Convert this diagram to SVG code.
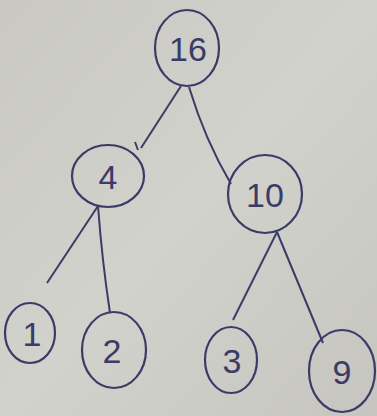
<svg xmlns="http://www.w3.org/2000/svg" width="377" height="416" viewBox="0 0 377 416">
<defs>
<linearGradient id="bg" x1="0" y1="0" x2="1" y2="1">
<stop offset="0" stop-color="#c9c8c2"/>
<stop offset="0.5" stop-color="#d2d2cc"/>
<stop offset="1" stop-color="#c6c5bf"/>
</linearGradient>
<style>
.n{fill:none;stroke:#3b3b68;stroke-width:2.2}
.e{fill:none;stroke:#3b3b68;stroke-width:2}
.t{font-family:"Liberation Sans",sans-serif;fill:#3b3b68;text-anchor:middle;font-size:34px}
</style>
</defs>
<rect width="377" height="416" fill="url(#bg)"/>
<g id="connectors">
<path class="e" d="M181,86 L141,148"/>
<path class="e" d="M135,142 L138,150"/>
<path class="e" d="M189,87 Q205,140 231,184"/>
<path class="e" d="M98,206 L47,283"/>
<path class="e" d="M98,206 Q102,260 110,313"/>
<path class="e" d="M277,232 L233,320"/>
<path class="e" d="M277,232 L323,343"/>
</g>
<g id="node16"><ellipse class="n" cx="187" cy="48" rx="32" ry="38"/><text class="t" x="188" y="61">16</text></g>
<g id="node4"><ellipse class="n" cx="108" cy="176" rx="36" ry="31"/><text class="t" x="108" y="189">4</text></g>
<g id="node10"><ellipse class="n" cx="265" cy="194" rx="37" ry="39"/><text class="t" x="265" y="207">10</text></g>
<g id="node1"><ellipse class="n" cx="30" cy="333" rx="25" ry="30"/><text class="t" x="32" y="346">1</text></g>
<g id="node2"><ellipse class="n" cx="114" cy="350" rx="32" ry="38"/><text class="t" x="112" y="363">2</text></g>
<g id="node3"><ellipse class="n" cx="231" cy="360" rx="26" ry="33"/><text class="t" x="232" y="373">3</text></g>
<g id="node9"><ellipse class="n" cx="342" cy="371" rx="33" ry="41"/><text class="t" x="342" y="384">9</text></g>
</svg>
